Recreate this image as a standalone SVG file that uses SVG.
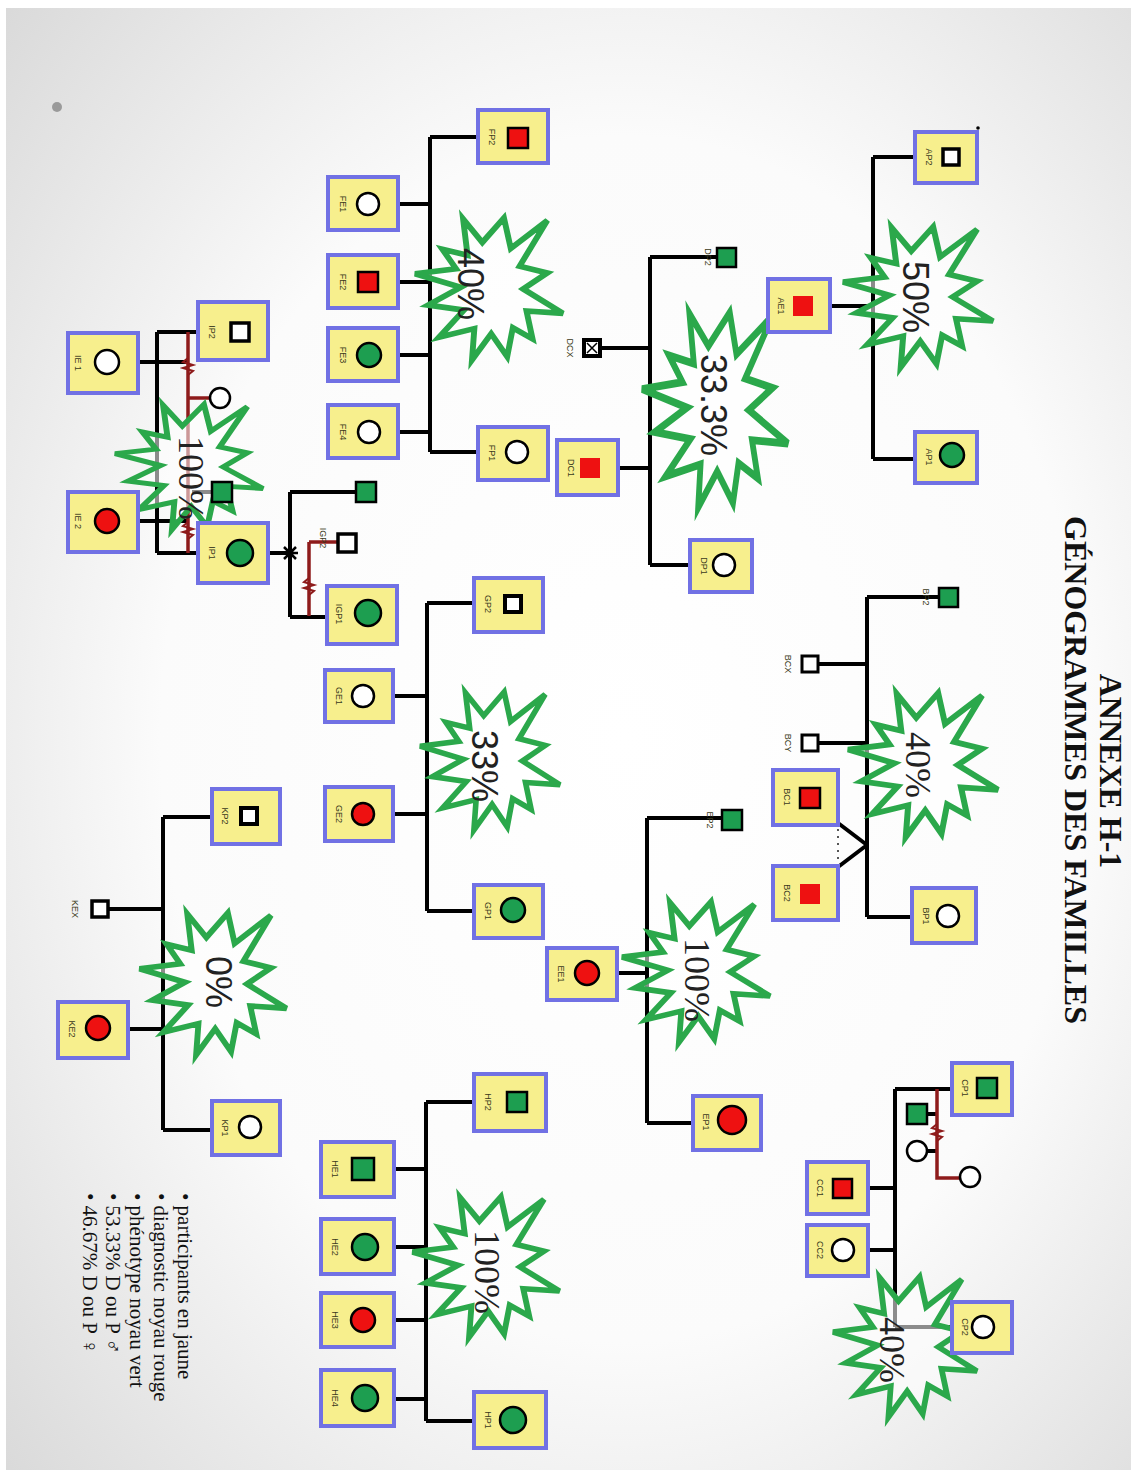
<svg xmlns="http://www.w3.org/2000/svg" width="1133" height="1475" viewBox="0 0 1133 1475">
<defs>
<radialGradient id="bg" cx="0.55" cy="0.5" r="0.75">
<stop offset="0" stop-color="#ffffff"/>
<stop offset="0.55" stop-color="#fbfbfb"/>
<stop offset="1" stop-color="#d9d9d9"/>
</radialGradient>
<path id="starShape" d="M0,-23.15 L17.2,-50 L15.5,-25.35 L35.1,-29.4 L27.3,-16.1 L47.7,-12.3 L31.5,-1.5 L50,11.5 L27.9,9.9 L34,33.8 L14.9,16.9 L11.3,41.1 L-1.2,19.1 L-10.7,50 L-14.3,22.3 L-28,31.5 L-23.8,14.5 L-49.4,17.5 L-32.8,4.5 L-50,-10.1 L-28.6,-14.7 L-48.3,-39.4 L-16.1,-20.7 L-11.3,-39.4 Z"/>
</defs>
<style>
.box{fill:#f7ef8d;stroke:#7171e4;stroke-width:4}
.lbl{font-family:"Liberation Sans",Arial,sans-serif;font-size:9px;fill:#3a3a20}
.ln{stroke:#000;stroke-width:4;fill:none}
.lnr{stroke:#8e1b1b;stroke-width:3.5;fill:none}
.zz{stroke:#8e1b1b;stroke-width:2;fill:none}
.sym{stroke:#000;stroke-width:2.5}
.red{fill:#ee1111}
.grn{fill:#1d9e50}
.wht{fill:#ffffff}
.star use{fill:#ffffff;fill-opacity:0.55;stroke:#2ba84b;stroke-width:4;vector-effect:non-scaling-stroke}
.pct{font-size:36px;fill:#222}
.sans{font-family:"Liberation Sans",Arial,sans-serif}
.serif{font-family:"Liberation Serif","Times New Roman",serif}
.title{font-family:"Liberation Serif","Times New Roman",serif;font-weight:bold;font-size:32px;fill:#111}
.leg{font-family:"Liberation Serif","Times New Roman",serif;font-size:21px;fill:#111}
</style>

<rect x="0" y="0" width="1133" height="1475" fill="#ffffff"/>
<rect x="6" y="8" width="1125" height="1462" fill="url(#bg)"/>
<circle cx="57" cy="107" r="5" fill="#9a9a9a"/>
<circle cx="978" cy="128" r="1.8" fill="#000"/>

<!-- Title -->
<g id="title">
<text class="title" transform="translate(1111,771) rotate(90)" text-anchor="middle" dominant-baseline="central">ANNEXE H-1</text>
<text class="title" transform="translate(1076,770) rotate(90)" text-anchor="middle" dominant-baseline="central">GÉNOGRAMMES DES FAMILLES</text>
</g>

<!-- Connectors -->
<g id="connectors">
<path class="ln" d="M430,137 V452 M430,137 H478 M430,452 H478 M398,204 H430 M398,282 H430 M398,355 H430 M398,432 H430"/>
<path class="ln" d="M650,257 V565 M650,257 H717 M602,348 H650 M618,468 H650 M650,565 H690"/>
<path class="ln" d="M873,157 V459 M873,157 H915 M830,306 H873 M873,459 H915"/>
<path class="ln" d="M157,332 V553 M157,332 H208 M157,553 H208 M119,362 H188 M119,521 H188 M192,492 H212"/>
<path class="lnr" d="M188,332 V553 M188,398 H210"/>
<path class="zz" d="M188,358 l-5,4 l10,3 l-10,3 l10,3 l-5,4 M188,522 l-5,4 l10,3 l-10,3 l10,3 l-5,4"/>
<path class="ln" d="M252,553 H290 M290,492 V617 M290,492 H356 M290,617 H338"/>
<path class="lnr" d="M309,542 V616 M309,542 H337"/>
<path class="zz" d="M309,578 l-5,4 l10,3 l-10,3 l10,3 l-5,4"/>
<path d="M284,547 L296,559 M296,547 L284,559 M282,553 H298" stroke="#000" stroke-width="2.5" fill="none"/>
<path class="ln" d="M427,603 V911 M427,603 H474 M393,696 H427 M393,814 H427 M427,911 H474"/>
<path class="ln" d="M426,1102 V1421 M426,1102 H474 M394,1169 H426 M394,1247 H426 M394,1320 H426 M394,1399 H426 M426,1421 H474"/>
<path class="ln" d="M163,817 V1130 M163,817 H212 M109,909 H163 M128,1029 H163 M163,1130 H212"/>
<path class="ln" d="M647,818 V1123 M647,818 H722 M617,973 H647 M647,1123 H693"/>
<path class="ln" d="M867,597 V917 M867,597 H939 M819,664 H867 M819,743 H867 M867,917 H912 M867,845 L838,823 M867,845 L838,867"/>
<path d="M838,829 V863" stroke="#555" stroke-width="2" stroke-dasharray="2,5" fill="none"/>
<path class="ln" d="M895,1089 V1327 M895,1089 H958 M868,1188 H895 M868,1250 H895 M895,1327 H958 M927,1114 H937 M927,1151 H937"/>
<path class="lnr" d="M937,1089 V1178 H960"/>
<path class="zz" d="M937,1124 l-5,4 l10,3 l-10,3 l10,3 l-5,4"/>
</g>

<!-- Stars -->
<g class="star">
<use href="#starShape" transform="translate(489,289) rotate(90) scale(1.42,1.48)"/>
<use href="#starShape" transform="translate(715,410) rotate(90) scale(1.95,1.46)"/>
<use href="#starShape" transform="translate(918,297) rotate(90) scale(1.40,1.50)"/>
<use href="#starShape" transform="translate(189,467) rotate(90) scale(1.25,1.48)"/>
<use href="#starShape" transform="translate(490,761) rotate(90) scale(1.38,1.40)"/>
<use href="#starShape" transform="translate(923,765) rotate(90) scale(1.44,1.50)"/>
<use href="#starShape" transform="translate(696,972) rotate(90) scale(1.40,1.48)"/>
<use href="#starShape" transform="translate(213,984) rotate(90) scale(1.42,1.47)"/>
<use href="#starShape" transform="translate(486,1267) rotate(90) scale(1.40,1.47)"/>
<use href="#starShape" transform="translate(905,1347) rotate(90) scale(1.40,1.44)"/>
</g>

<!-- Family F -->
<g id="FP2"><rect class="box" x="478" y="110" width="70" height="53"/><text class="lbl" transform="translate(492,137) rotate(90)" text-anchor="middle" dominant-baseline="central">FP2</text><rect class="sym red" x="508" y="128" width="20" height="20"/></g>
<g id="FE1"><rect class="box" x="328" y="177" width="70" height="53"/><text class="lbl" transform="translate(343,204) rotate(90)" text-anchor="middle" dominant-baseline="central">FE1</text><circle class="sym wht" cx="368" cy="204" r="11"/></g>
<g id="FE2"><rect class="box" x="328" y="255" width="70" height="53"/><text class="lbl" transform="translate(343,282) rotate(90)" text-anchor="middle" dominant-baseline="central">FE2</text><rect class="sym red" x="358" y="272" width="20" height="20"/></g>
<g id="FE3"><rect class="box" x="328" y="328" width="70" height="53"/><text class="lbl" transform="translate(343,355) rotate(90)" text-anchor="middle" dominant-baseline="central">FE3</text><circle class="sym grn" cx="369" cy="355" r="12"/></g>
<g id="FE4"><rect class="box" x="328" y="405" width="70" height="53"/><text class="lbl" transform="translate(343,432) rotate(90)" text-anchor="middle" dominant-baseline="central">FE4</text><circle class="sym wht" cx="369" cy="432" r="11"/></g>
<g id="FP1"><rect class="box" x="478" y="427" width="70" height="53"/><text class="lbl" transform="translate(492,453) rotate(90)" text-anchor="middle" dominant-baseline="central">FP1</text><circle class="sym wht" cx="517" cy="452" r="11"/></g>

<!-- Family D -->
<g id="DP2"><text class="lbl" transform="translate(708,257) rotate(90)" text-anchor="middle" dominant-baseline="central">DP2</text><rect class="sym grn" x="717" y="248" width="19" height="19"/></g>
<g id="DCX"><text class="lbl" transform="translate(570,348) rotate(90)" text-anchor="middle" dominant-baseline="central">DCX</text><rect x="582" y="338" width="20" height="20" fill="#000"/><rect x="586" y="342" width="12" height="12" fill="#fff"/><path d="M587,343 L597,353 M597,343 L587,353" stroke="#000" stroke-width="1.5"/></g>
<g id="DC1"><rect class="box" x="557" y="440" width="61" height="55"/><text class="lbl" transform="translate(571,468) rotate(90)" text-anchor="middle" dominant-baseline="central">DC1</text><rect class="red" x="580" y="458" width="20" height="20"/></g>
<g id="DP1"><rect class="box" x="690" y="540" width="62" height="52"/><text class="lbl" transform="translate(704,566) rotate(90)" text-anchor="middle" dominant-baseline="central">DP1</text><circle class="sym wht" cx="724" cy="565" r="11"/></g>

<!-- Family A -->
<g id="AP2"><rect class="box" x="915" y="132" width="62" height="51"/><text class="lbl" transform="translate(929,157) rotate(90)" text-anchor="middle" dominant-baseline="central">AP2</text><rect x="943" y="149" width="16" height="16" fill="#fff" stroke="#000" stroke-width="3.5"/></g>
<g id="AE1"><rect class="box" x="768" y="279" width="62" height="53"/><text class="lbl" transform="translate(781,306) rotate(90)" text-anchor="middle" dominant-baseline="central">AE1</text><rect class="red" x="793" y="296" width="20" height="20"/></g>
<g id="AP1"><rect class="box" x="915" y="432" width="62" height="51"/><text class="lbl" transform="translate(929,457) rotate(90)" text-anchor="middle" dominant-baseline="central">AP1</text><circle class="sym grn" cx="952" cy="455" r="12"/></g>

<!-- Family I -->
<g id="IE1"><rect class="box" x="68" y="333" width="70" height="60"/><text class="lbl" transform="translate(78,363) rotate(90)" text-anchor="middle" dominant-baseline="central">IE 1</text><circle class="sym wht" cx="107" cy="362" r="12"/></g>
<g id="IP2"><rect class="box" x="198" y="302" width="70" height="58"/><text class="lbl" transform="translate(212,332) rotate(90)" text-anchor="middle" dominant-baseline="central">IP2</text><rect x="231" y="323" width="18" height="18" fill="#fff" stroke="#000" stroke-width="3.5"/></g>
<g id="IE2"><rect class="box" x="68" y="492" width="70" height="60"/><text class="lbl" transform="translate(78,521) rotate(90)" text-anchor="middle" dominant-baseline="central">IE 2</text><circle class="sym red" cx="107" cy="521" r="12"/></g>
<g id="IP1"><rect class="box" x="198" y="523" width="70" height="60"/><text class="lbl" transform="translate(212,553) rotate(90)" text-anchor="middle" dominant-baseline="central">IP1</text><circle class="sym grn" cx="240" cy="553" r="13"/></g>
<g id="I-child1"><circle class="sym wht" cx="220" cy="398" r="10"/></g>
<g id="I-child2"><rect class="sym grn" x="212" y="482" width="20" height="20"/></g>
<g id="IGP-child"><rect class="sym grn" x="356" y="482" width="20" height="20"/></g>
<g id="IGP2"><text class="lbl" transform="translate(323,538) rotate(90)" text-anchor="middle" dominant-baseline="central">IGP2</text><rect x="338" y="534" width="18" height="18" fill="#fff" stroke="#000" stroke-width="3.5"/></g>
<g id="IGP1"><rect class="box" x="327" y="586" width="70" height="58"/><text class="lbl" transform="translate(339,614) rotate(90)" text-anchor="middle" dominant-baseline="central">IGP1</text><circle class="sym grn" cx="368" cy="613" r="13"/></g>

<!-- Family G -->
<g id="GP2"><rect class="box" x="474" y="578" width="69" height="54"/><text class="lbl" transform="translate(488,604) rotate(90)" text-anchor="middle" dominant-baseline="central">GP2</text><rect x="505" y="596" width="16" height="16" fill="#fff" stroke="#000" stroke-width="4"/></g>
<g id="GE1"><rect class="box" x="325" y="670" width="68" height="52"/><text class="lbl" transform="translate(339,696) rotate(90)" text-anchor="middle" dominant-baseline="central">GE1</text><circle class="sym wht" cx="363" cy="696" r="11"/></g>
<g id="GE2"><rect class="box" x="325" y="787" width="68" height="54"/><text class="lbl" transform="translate(339,814) rotate(90)" text-anchor="middle" dominant-baseline="central">GE2</text><circle class="sym red" cx="363" cy="814" r="11"/></g>
<g id="GP1"><rect class="box" x="474" y="885" width="69" height="53"/><text class="lbl" transform="translate(488,911) rotate(90)" text-anchor="middle" dominant-baseline="central">GP1</text><circle class="sym grn" cx="513" cy="910" r="12"/></g>

<!-- Family H -->
<g id="HP2"><rect class="box" x="474" y="1074" width="72" height="57"/><text class="lbl" transform="translate(488,1102) rotate(90)" text-anchor="middle" dominant-baseline="central">HP2</text><rect class="sym grn" x="507" y="1092" width="20" height="20"/></g>
<g id="HE1"><rect class="box" x="321" y="1142" width="73" height="55"/><text class="lbl" transform="translate(335,1169) rotate(90)" text-anchor="middle" dominant-baseline="central">HE1</text><rect class="sym grn" x="352" y="1158" width="22" height="22"/></g>
<g id="HE2"><rect class="box" x="321" y="1219" width="73" height="55"/><text class="lbl" transform="translate(335,1247) rotate(90)" text-anchor="middle" dominant-baseline="central">HE2</text><circle class="sym grn" cx="365" cy="1247" r="13"/></g>
<g id="HE3"><rect class="box" x="321" y="1293" width="73" height="54"/><text class="lbl" transform="translate(335,1320) rotate(90)" text-anchor="middle" dominant-baseline="central">HE3</text><circle class="sym red" cx="363" cy="1320" r="12"/></g>
<g id="HE4"><rect class="box" x="321" y="1370" width="73" height="56"/><text class="lbl" transform="translate(335,1398) rotate(90)" text-anchor="middle" dominant-baseline="central">HE4</text><circle class="sym grn" cx="365" cy="1398" r="13"/></g>
<g id="HP1"><rect class="box" x="474" y="1392" width="72" height="56"/><text class="lbl" transform="translate(488,1420) rotate(90)" text-anchor="middle" dominant-baseline="central">HP1</text><circle class="sym grn" cx="513" cy="1420" r="13"/></g>

<!-- Family K -->
<g id="KP2"><rect class="box" x="212" y="789" width="68" height="55"/><text class="lbl" transform="translate(225,816) rotate(90)" text-anchor="middle" dominant-baseline="central">KP2</text><rect x="241" y="808" width="16" height="16" fill="#fff" stroke="#000" stroke-width="4"/></g>
<g id="KEX"><text class="lbl" transform="translate(75,909) rotate(90)" text-anchor="middle" dominant-baseline="central">KEX</text><rect x="92" y="901" width="16" height="16" fill="#fff" stroke="#000" stroke-width="3.5"/></g>
<g id="KE2"><rect class="box" x="58" y="1002" width="70" height="56"/><text class="lbl" transform="translate(72,1029) rotate(90)" text-anchor="middle" dominant-baseline="central">KE2</text><circle class="sym red" cx="98" cy="1028" r="12"/></g>
<g id="KP1"><rect class="box" x="212" y="1101" width="68" height="54"/><text class="lbl" transform="translate(225,1128) rotate(90)" text-anchor="middle" dominant-baseline="central">KP1</text><circle class="sym wht" cx="250" cy="1127" r="11"/></g>

<!-- Family E -->
<g id="EP2"><text class="lbl" transform="translate(710,820) rotate(90)" text-anchor="middle" dominant-baseline="central">EP2</text><rect class="sym grn" x="722" y="810" width="20" height="20"/></g>
<g id="EE1"><rect class="box" x="547" y="948" width="70" height="52"/><text class="lbl" transform="translate(561,974) rotate(90)" text-anchor="middle" dominant-baseline="central">EE1</text><circle class="sym red" cx="587" cy="973" r="12"/></g>
<g id="EP1"><rect class="box" x="693" y="1096" width="68" height="54"/><text class="lbl" transform="translate(706,1122) rotate(90)" text-anchor="middle" dominant-baseline="central">EP1</text><circle class="sym red" cx="732" cy="1120" r="14"/></g>

<!-- Family B -->
<g id="BP2"><text class="lbl" transform="translate(926,597) rotate(90)" text-anchor="middle" dominant-baseline="central">BP2</text><rect class="sym grn" x="939" y="588" width="19" height="19"/></g>
<g id="BCX"><text class="lbl" transform="translate(788,664) rotate(90)" text-anchor="middle" dominant-baseline="central">BCX</text><rect x="802" y="656" width="16" height="16" fill="#fff" stroke="#000" stroke-width="3"/></g>
<g id="BCY"><text class="lbl" transform="translate(788,743) rotate(90)" text-anchor="middle" dominant-baseline="central">BCY</text><rect x="802" y="735" width="16" height="16" fill="#fff" stroke="#000" stroke-width="3"/></g>
<g id="BC1"><rect class="box" x="773" y="770" width="65" height="55"/><text class="lbl" transform="translate(787,797) rotate(90)" text-anchor="middle" dominant-baseline="central">BC1</text><rect class="sym red" x="800" y="788" width="20" height="20"/></g>
<g id="BC2"><rect class="box" x="773" y="866" width="65" height="54"/><text class="lbl" transform="translate(787,893) rotate(90)" text-anchor="middle" dominant-baseline="central">BC2</text><rect class="red" x="800" y="884" width="20" height="20"/></g>
<g id="BP1"><rect class="box" x="912" y="888" width="64" height="55"/><text class="lbl" transform="translate(926,916) rotate(90)" text-anchor="middle" dominant-baseline="central">BP1</text><circle class="sym wht" cx="948" cy="916" r="11"/></g>

<!-- Family C -->
<g id="CP1"><rect class="box" x="952" y="1063" width="60" height="52"/><text class="lbl" transform="translate(965,1088) rotate(90)" text-anchor="middle" dominant-baseline="central">CP1</text><rect class="sym grn" x="977" y="1078" width="20" height="20"/></g>
<g id="CC1"><rect class="box" x="807" y="1162" width="61" height="52"/><text class="lbl" transform="translate(820,1188) rotate(90)" text-anchor="middle" dominant-baseline="central">CC1</text><rect class="sym red" x="833" y="1179" width="19" height="19"/></g>
<g id="CC2"><rect class="box" x="807" y="1225" width="61" height="51"/><text class="lbl" transform="translate(820,1250) rotate(90)" text-anchor="middle" dominant-baseline="central">CC2</text><circle class="sym wht" cx="843" cy="1250" r="11"/></g>
<g id="CP2"><rect class="box" x="952" y="1302" width="60" height="51"/><text class="lbl" transform="translate(965,1327) rotate(90)" text-anchor="middle" dominant-baseline="central">CP2</text><circle class="sym wht" cx="983" cy="1327" r="11"/></g>
<g id="C-child1"><rect class="sym grn" x="907" y="1104" width="20" height="20"/></g>
<g id="C-child2"><circle class="sym wht" cx="917" cy="1151" r="10"/></g>
<g id="C-child3"><circle class="sym wht" cx="970" cy="1177" r="10"/></g>

<!-- Percent labels -->
<g id="percents">
<text class="pct sans" transform="translate(470,284) rotate(90)" text-anchor="middle" dominant-baseline="central">40%</text>
<text class="pct sans" transform="translate(713,405) rotate(90)" text-anchor="middle" dominant-baseline="central">33.3%</text>
<text class="pct sans" transform="translate(915,297) rotate(90)" text-anchor="middle" dominant-baseline="central">50%</text>
<text class="pct serif" transform="translate(191,478) rotate(90)" text-anchor="middle" dominant-baseline="central">100%</text>
<text class="pct sans" transform="translate(484,766) rotate(90)" text-anchor="middle" dominant-baseline="central">33%</text>
<text class="pct serif" transform="translate(918,765) rotate(90)" text-anchor="middle" dominant-baseline="central">40%</text>
<text class="pct serif" transform="translate(697,980) rotate(90)" text-anchor="middle" dominant-baseline="central">100%</text>
<text class="pct sans" transform="translate(218,982) rotate(90)" text-anchor="middle" dominant-baseline="central">0%</text>
<text class="pct serif" transform="translate(487,1272) rotate(90)" text-anchor="middle" dominant-baseline="central">100%</text>
<text class="pct serif" transform="translate(892,1350) rotate(90)" text-anchor="middle" dominant-baseline="central">40%</text>
</g>

<!-- Legend -->
<g id="legend" class="leg">
<text transform="translate(185,1193) rotate(90)" dominant-baseline="central">•  participants en jaune</text>
<text transform="translate(161,1193) rotate(90)" dominant-baseline="central">•  diagnostic noyau rouge</text>
<text transform="translate(137,1193) rotate(90)" dominant-baseline="central">•  phénotype noyau vert</text>
<text transform="translate(113,1193) rotate(90)" dominant-baseline="central">•  53.33% D ou P ♂</text>
<text transform="translate(90,1193) rotate(90)" dominant-baseline="central">•  46.67% D ou P ♀</text>
</g>
</svg>
